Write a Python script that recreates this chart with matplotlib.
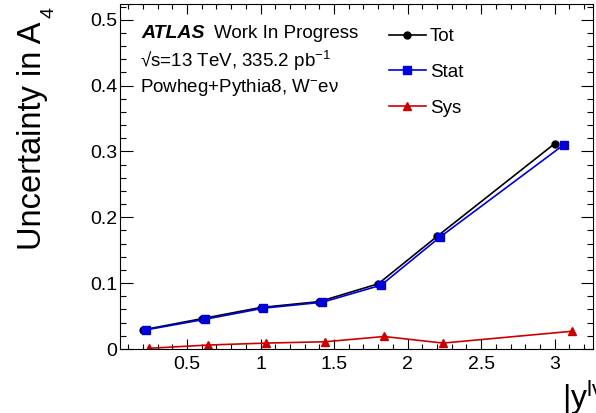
import matplotlib
matplotlib.use("Agg")
import matplotlib.pyplot as plt
from matplotlib.ticker import MultipleLocator
import numpy as np

plt.rcParams['font.family'] = ['Liberation Sans', 'DejaVu Sans']
plt.rcParams['mathtext.fontset'] = 'custom'
plt.rcParams['mathtext.rm'] = 'Liberation Sans'
plt.rcParams['mathtext.it'] = 'Liberation Sans:italic'
plt.rcParams['mathtext.bf'] = 'Liberation Sans:bold'

# data
bin_centers = [0.2, 0.6, 1.0, 1.4, 1.8, 2.2, 3.0]
bin_widths = [0.4, 0.4, 0.4, 0.4, 0.4, 0.4, 1.2]
tot = [0.029, 0.046, 0.063, 0.072, 0.099, 0.171, 0.312]
stat = [0.029, 0.045, 0.062, 0.071, 0.097, 0.170, 0.310]
sys_ = [0.001, 0.006, 0.009, 0.011, 0.019, 0.009, 0.027]

xc = np.array(bin_centers)
w = np.array(bin_widths)

fig = plt.figure(figsize=(5.96, 4.13), dpi=100)
ax = fig.add_axes([120/596, 1-349/413, (593-120)/596, (349-4)/413])

ax.plot(xc, tot, color='black', lw=1.2, marker='o', ms=5, label='Tot')
ax.plot(xc + 0.05*w, stat, color='#0000dd', lw=1.2, marker='s', ms=6, label='Stat')
ax.plot(xc + 0.1*w, sys_, color='#cc0000', lw=1.2, marker='^', ms=5.5, label='Sys')

ax.set_xlim(0.045, 3.26)
ax.set_ylim(0, 0.524)
ax.xaxis.set_major_locator(MultipleLocator(0.5))
ax.xaxis.set_minor_locator(MultipleLocator(0.1))
ax.yaxis.set_major_locator(MultipleLocator(0.1))
ax.yaxis.set_minor_locator(MultipleLocator(0.02))
ax.set_xticks([0.5, 1, 1.5, 2, 2.5, 3])
ax.set_xticklabels(['0.5', '1', '1.5', '2', '2.5', '3'])
ax.set_yticks([0, 0.1, 0.2, 0.3, 0.4, 0.5])
ax.set_yticklabels(['0', '0.1', '0.2', '0.3', '0.4', '0.5'])
ax.tick_params(axis='both', which='both', direction='in', top=True, right=True, width=0.8, labelsize=14)
ax.tick_params(axis='x', which='major', length=7, pad=5)
ax.tick_params(axis='x', which='minor', length=3.5)
ax.tick_params(axis='y', which='major', length=9, pad=2)
ax.tick_params(axis='y', which='minor', length=4)
for s in ax.spines.values():
    s.set_linewidth(0.8)

leg = ax.legend(loc='upper left', bbox_to_anchor=(0.552, 0.952), frameon=False,
                fontsize=13.5, handlelength=2.0, handletextpad=0.2, labelspacing=1.0,
                borderaxespad=0)

ax.text((141-120)/473, 1-34/345, 'ATLAS', transform=ax.transAxes, fontsize=14,
        fontweight='bold', fontstyle='italic', va='baseline', ha='left')
ax.text((214-120)/473, 1-34/345, 'Work In Progress', transform=ax.transAxes, fontsize=13.5,
        va='baseline', ha='left')
ax.text((140-120)/473, 1-63/345, '√s=13 TeV, 335.2 pb$^{-1}$', transform=ax.transAxes, fontsize=13.5,
        va='baseline', ha='left')
ax.text((140-120)/473, 1-88/345, 'Powheg+Pythia8, W$^{-}$eν', transform=ax.transAxes, fontsize=13.5,
        va='baseline', ha='left')

fig.text(33/596, 1-22/413, 'Uncertainty in A', rotation=90, fontsize=23.5,
         ha='center', va='top')
fig.text(49/596, 1-12/413, '4', rotation=90, fontsize=14, ha='center', va='center')
fig.text(562/596, 1-408/413, '|y$^{\\mathrm{lν}}$|', fontsize=23, ha='left', va='baseline')

fig.savefig('out.png', dpi=100)
